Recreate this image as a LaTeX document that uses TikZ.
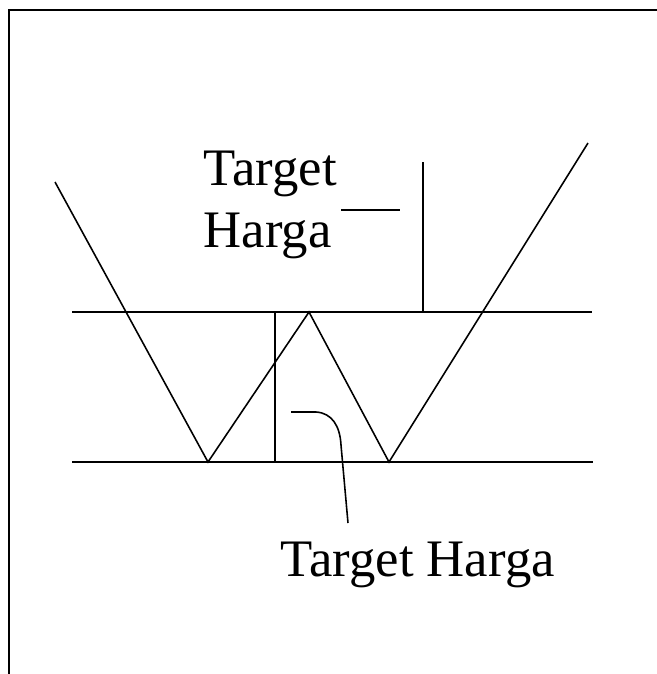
\documentclass[tikz,border=0pt]{standalone}
\usepackage{fontspec}
\setmainfont{Liberation Serif}
\usetikzlibrary{positioning}

\begin{document}
\begin{tikzpicture}[x=0.02cm, y=-0.02cm, line width=0.9pt,
    lbl/.style={inner sep=0pt, font=\fontsize{30}{35}\selectfont, align=left}]
    \useasboundingbox (0,0) rectangle (657,674);

    % Frame (only top and left edges show)
    \draw[line width=1.6pt] (9,674) -- (9,10) -- (657,10);

    % Band lines
    \draw (72,312) -- (592,312);
    \draw (72,462) -- (593,462);

    % Price path (W shape)
    \coordinate (start) at (55,182);
    \coordinate (low1) at (208,462);
    \coordinate (peak) at (309,312);
    \coordinate (low2) at (389,462);
    \coordinate (finish) at (588,143);
    \draw (start) -- (low1) -- (peak) -- (low2) -- (finish);

    % Target heights
    \draw (275,312) -- (275,462);
    \draw (423,162) -- (423,312);

    % Labels
    \node[lbl, anchor=base west] (upper) at (203,247) {Target\\Harga};
    \node[lbl, anchor=base west] (lower) at (280,576) {Target Harga};

    % Leader lines
    \coordinate (upA) at (341,210);
    \coordinate (upB) at (400,210);
    \draw (upA) -- (upB);
    \coordinate (loA) at (291,412);
    \coordinate (loB) at (348,523);
    \draw (loA) -- (316,412) .. controls (332,413) and (340,426) .. (341,445) -- (loB);
\end{tikzpicture}
\end{document}
